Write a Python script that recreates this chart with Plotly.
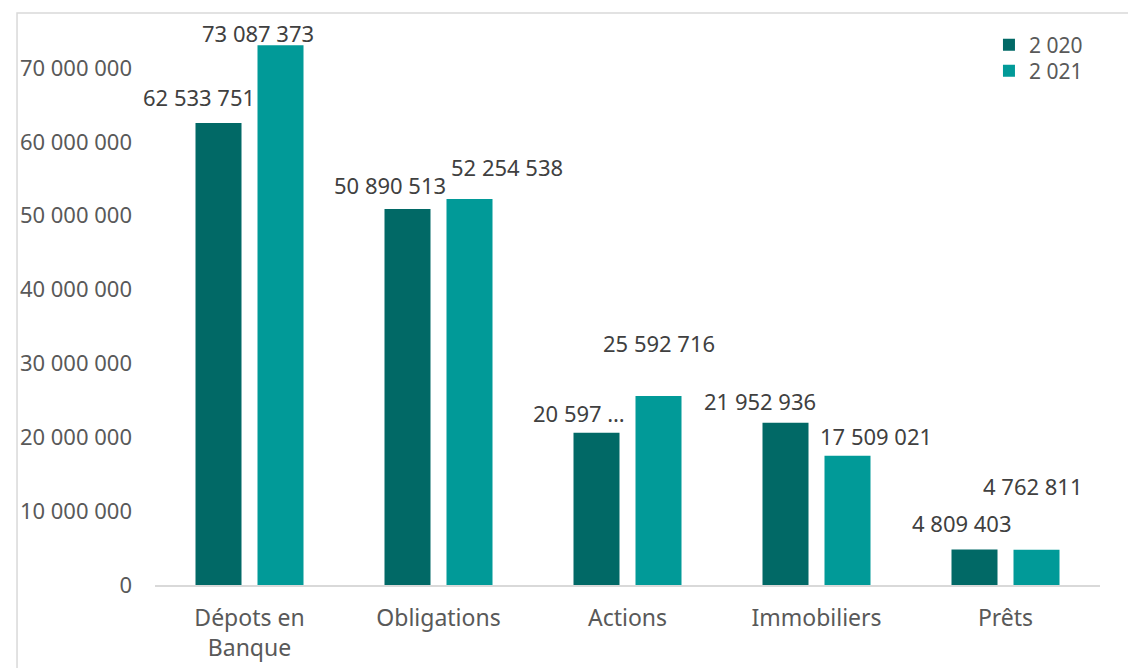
import plotly.graph_objects as go

CATEGORIES = ["Dépots en<br>Banque", "Obligations", "Actions", "Immobiliers", "Prêts"]
SERIES = ["2 020", "2 021"]
VALUES_2020 = [62533751, 50890513, 20597500, 21952936, 4809403]
VALUES_2021 = [73087373, 52254538, 25592716, 17509021, 4762811]
LABELS_2020 = ["62 533 751", "50 890 513", "20 597 …", "21 952 936", "4 809 403"]
LABELS_2021 = ["73 087 373", "52 254 538", "25 592 716", "17 509 021", "4 762 811"]
Y_TICKS = [0, 10000000, 20000000, 30000000, 40000000, 50000000, 60000000, 70000000]

COLORS = {"2 020": "#016966", "2 021": "#019a98"}
FONT = "Noto Sans"
TEXT_GREY = "#595959"
LABEL_GREY = "#404040"

# Excel-style label offsets (px): (xshift, yshift above bar top)
SHIFTS_2020 = [(-20, 26), (-18, 24), (-18, 20), (-26, 22), (-13, 26)]
SHIFTS_2021 = [(-23, 12), (37, 32), (0, 53), (28, 20), (-4, 64)]

fig = go.Figure()
for name, vals, leg in zip(SERIES, [VALUES_2020, VALUES_2021], ["legend", "legend2"]):
    fig.add_trace(go.Bar(
        x=CATEGORIES, y=vals, name=name, legend=leg,
        marker=dict(color=COLORS[name], line=dict(width=0)),
    ))

# data labels, placed like the original
for i, (vals, labels, shifts) in enumerate(
        [(VALUES_2020, LABELS_2020, SHIFTS_2020), (VALUES_2021, LABELS_2021, SHIFTS_2021)]):
    offset = -0.164 if i == 0 else 0.164
    for k, (v, lab, (dx, dy)) in enumerate(zip(vals, labels, shifts)):
        fig.add_annotation(
            x=k + offset, y=v, text=lab, showarrow=False,
            xshift=dx, yshift=dy, yanchor="middle",
            font=dict(family=FONT, size=22, color=LABEL_GREY),
        )

# chart border
fig.add_shape(type="rect", xref="paper", yref="paper",
              x0=-0.146, x1=1.2, y0=-0.3, y1=1.0325,
              line=dict(color="#d9d9d9", width=1.5), fillcolor="rgba(0,0,0,0)")

legend_style = dict(xanchor="left", yanchor="middle", font=dict(size=21, color=TEXT_GREY),
                    itemwidth=30, bgcolor="rgba(0,0,0,0)")

fig.update_layout(
    width=1136, height=668,
    margin=dict(l=147, r=44, t=23, b=91),
    paper_bgcolor="white", plot_bgcolor="white",
    barmode="group", bargap=0.344, bargroupgap=0.258,
    separators=", ",
    font=dict(family=FONT, size=22, color=TEXT_GREY),
    legend=dict(x=0.8825, y=0.9747, **legend_style),
    legend2=dict(x=0.8825, y=0.9278, **legend_style),
    showlegend=True,
)
fig.update_xaxes(
    automargin=False, range=[-0.5, len(CATEGORIES) - 0.5],
    showgrid=False, showline=True, linecolor="#d9d9d9", linewidth=2,
    ticks="", ticklabelstandoff=11, tickfont=dict(size=23, color=TEXT_GREY),
)
fig.update_yaxes(
    automargin=False, range=[0, 75000000], showgrid=False, zeroline=False, showline=False,
    tickvals=Y_TICKS, tickformat=",d", ticklabelstandoff=22,
    tickfont=dict(size=22, color=TEXT_GREY),
)

fig.write_html("out.html")
